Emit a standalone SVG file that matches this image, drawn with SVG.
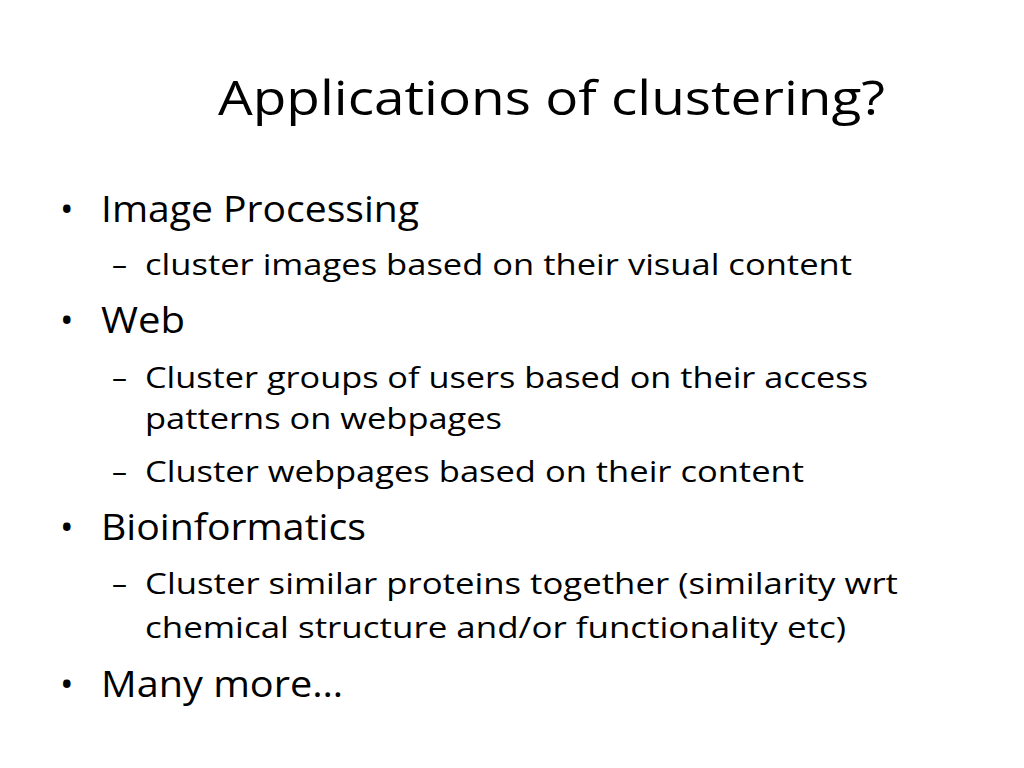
<svg xmlns="http://www.w3.org/2000/svg" width="1024" height="768" viewBox="0 0 1024 768">
<style>
text{font-family:"Open Sans","Liberation Sans",sans-serif;fill:#000}
.t{font-size:48px}
.l1{font-size:36px}
.l2{font-size:30px}
</style>
<rect width="1024" height="768" fill="#fff"/>
<text class="t" x="218" y="115" textLength="667" lengthAdjust="spacingAndGlyphs">Applications of clustering?</text>
<g class="l1">
<text class="l1" x="60" y="222">•</text>
<text class="l1" x="101" y="222" textLength="318" lengthAdjust="spacingAndGlyphs">Image Processing</text>
<text class="l1" x="60" y="333">•</text>
<text class="l1" x="101" y="333" textLength="84" lengthAdjust="spacingAndGlyphs">Web</text>
<text class="l1" x="60" y="540">•</text>
<text class="l1" x="101" y="540" textLength="265" lengthAdjust="spacingAndGlyphs">Bioinformatics</text>
<text class="l1" x="60" y="697">•</text>
<text class="l1" x="101" y="697" textLength="242" lengthAdjust="spacingAndGlyphs">Many more…</text>
</g>
<g>
<text class="l2" x="112" y="275">–</text>
<text class="l2" x="145" y="275" textLength="707" lengthAdjust="spacingAndGlyphs">cluster images based on their visual content</text>
<text class="l2" x="112" y="388">–</text>
<text class="l2" x="145" y="388" textLength="723" lengthAdjust="spacingAndGlyphs">Cluster groups of users based on their access</text>
<text class="l2" x="145" y="429" textLength="357" lengthAdjust="spacingAndGlyphs">patterns on webpages</text>
<text class="l2" x="112" y="482">–</text>
<text class="l2" x="145" y="482" textLength="659" lengthAdjust="spacingAndGlyphs">Cluster webpages based on their content</text>
<text class="l2" x="112" y="594">–</text>
<text class="l2" x="145" y="594" textLength="753" lengthAdjust="spacingAndGlyphs">Cluster similar proteins together (similarity wrt</text>
<text class="l2" x="145" y="638" textLength="701" lengthAdjust="spacingAndGlyphs">chemical structure and/or functionality etc)</text>
</g>
</svg>
